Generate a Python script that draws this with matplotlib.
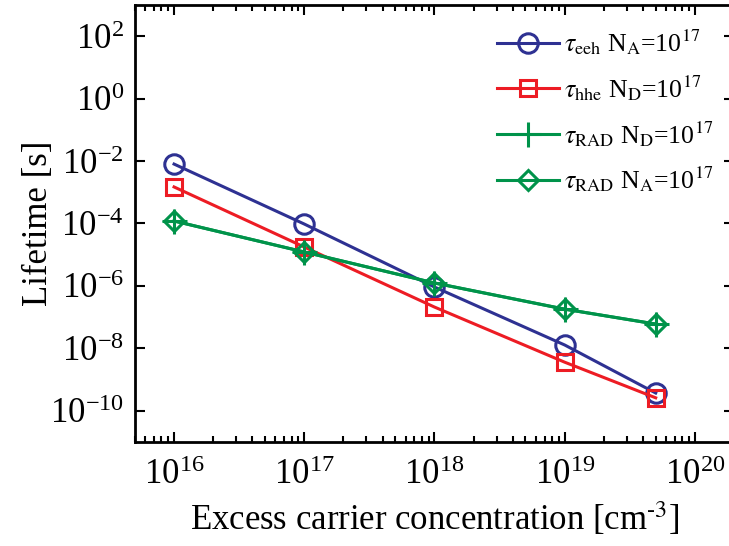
import numpy as np
import matplotlib
matplotlib.use('Agg')
import matplotlib.pyplot as plt
from matplotlib.ticker import LogLocator, NullFormatter

plt.rcParams['font.family'] = ['Liberation Serif', 'DejaVu Serif']
plt.rcParams['mathtext.fontset'] = 'stix'
plt.rcParams['axes.unicode_minus'] = False

# excess carrier concentration [cm^-3]
conc = [1e16, 1e17, 1e18, 1e19, 5e19]

# lifetimes [s]
tau_eeh = [8.0e-3, 9.6e-5, 9.2e-7, 1.28e-8, 3.7e-10]
tau_hhe = [1.48e-3, 1.76e-5, 2.1e-7, 3.6e-9, 2.6e-10]
tau_rad_nd = [1.2e-4, 1.22e-5, 1.24e-6, 1.8e-7, 6.0e-8]
tau_rad_na = [1.2e-4, 1.22e-5, 1.24e-6, 1.8e-7, 6.0e-8]

blue = '#2e3192'
red = '#ed1c24'
green = '#00934a'

fig = plt.figure(figsize=(7.29, 5.46), dpi=100)
ax = fig.add_axes([0.185, 0.1905, 0.822, 0.8004])

ax.loglog(conc, tau_eeh, color=blue, lw=2.2, marker='o', ms=14, mfc='none', mew=2.2,
          label=r'$\tau_{\mathrm{eeh}}$ N$_{\mathrm{A}}$=10$^{17}$')
ax.loglog(conc, tau_hhe, color=red, lw=2.2, marker='s', ms=12, mfc='none', mew=2.2,
          label=r'$\tau_{\mathrm{hhe}}$ N$_{\mathrm{D}}$=10$^{17}$')
ax.loglog(conc, tau_rad_nd, color=green, lw=2.2, marker='+', ms=18, mew=2.2,
          label=r'$\tau_{\mathrm{RAD}}$ N$_{\mathrm{D}}$=10$^{17}$')
ax.loglog(conc, tau_rad_na, color=green, lw=2.2, marker='D', ms=10, mfc='none', mew=2.2,
          label=r'$\tau_{\mathrm{RAD}}$ N$_{\mathrm{A}}$=10$^{17}$')

ax.set_xlim(5e15, 2e20)
ax.set_ylim(1e-11, 1e3)

ax.xaxis.set_major_locator(LogLocator(base=10, numticks=20))
ax.xaxis.set_minor_locator(LogLocator(base=10, subs=np.arange(2, 10), numticks=20))
ax.xaxis.set_minor_formatter(NullFormatter())
ax.set_yticks([10.0**k for k in range(-10, 3, 2)])
ax.yaxis.set_minor_locator(plt.NullLocator())

ax.tick_params(which='both', direction='in', top=True, right=True, labelsize=25, width=1.5)
ax.tick_params(which='major', length=7, pad=8)
ax.tick_params(axis='x', which='major', pad=12)
ax.tick_params(which='minor', length=4)
for s in ax.spines.values():
    s.set_linewidth(2)

ax.set_xlabel(r'Excess carrier concentration [cm$^{\text{-}3}$]', fontsize=25, labelpad=6)
ax.set_ylabel('Lifetime [s]', fontsize=25, labelpad=-4)

ax.legend(loc='upper right', bbox_to_anchor=(0.995, 0.99), frameon=False, fontsize=18.5,
          handlelength=2.4, labelspacing=0.62, handletextpad=0.2, borderaxespad=0.3)

fig.savefig('out.png', dpi=100)
